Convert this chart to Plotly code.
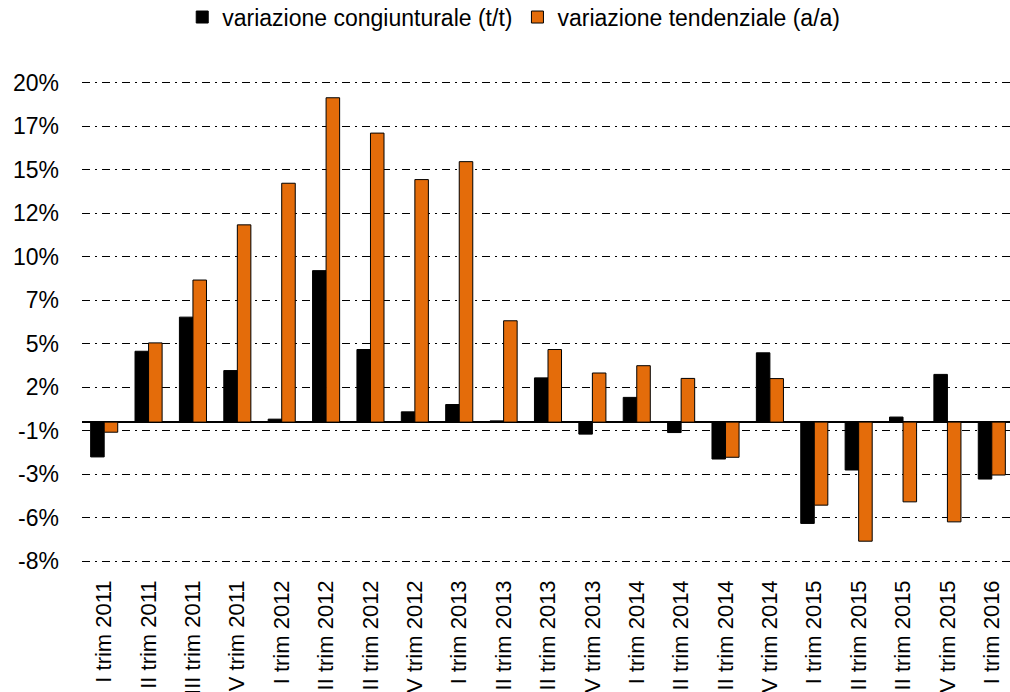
import numpy as np
import plotly.graph_objects as go

categories = [
    "I trim 2011", "II trim 2011", "III trim 2011", "IV trim 2011",
    "I trim 2012", "II trim 2012", "III trim 2012", "IV trim 2012",
    "I trim 2013", "II trim 2013", "III trim 2013", "IV trim 2013",
    "I trim 2014", "II trim 2014", "III trim 2014", "IV trim 2014",
    "I trim 2015", "II trim 2015", "III trim 2015", "IV trim 2015",
    "I trim 2016",
]

congiunturale = [-2.0, 4.07, 6.03, 2.96, 0.17, 8.70, 4.17, 0.59, 1.01, 0.07, 2.54,
                 -0.69, 1.42, -0.60, -2.12, 3.98, -5.82, -2.75, 0.29, 2.74, -3.27]
tendenziale = [-0.58, 4.55, 8.16, 11.33, 13.72, 18.63, 16.60, 13.93, 14.96, 5.82, 4.17,
               2.82, 3.24, 2.51, -2.02, 2.50, -4.77, -6.84, -4.58, -5.73, -3.04]

y_tick_labels = ["-8%", "-6%", "-3%", "-1%", "2%", "5%", "7%", "10%", "12%", "15%", "17%", "20%"]
Y_MIN, Y_STEP = -8.0, 2.5

series_names = ["variazione congiunturale (t/t)", "variazione tendenziale (a/a)"]

FONT = "Liberation Sans, Arial, sans-serif"
ORANGE = "#E46C0A"

y_tick_vals = list(Y_MIN + Y_STEP * np.arange(len(y_tick_labels)))
y_max = y_tick_vals[-1]
PAD = 0.15
y_range = [Y_MIN - PAD, y_max + PAD]
n = len(categories)
x_range = [-0.5, n - 0.5 - 0.09]

fig = go.Figure()
fig.add_trace(go.Bar(x=categories, y=congiunturale, name=series_names[0],
                     marker=dict(color="#000000", line=dict(color="#000000", width=1))))
fig.add_trace(go.Bar(x=categories, y=tendenziale, name=series_names[1],
                     marker=dict(color=ORANGE, line=dict(color="#000000", width=1))))

fig.update_layout(
    template="none",
    width=1010, height=692,
    margin=dict(l=82, r=0, t=80, b=128, autoexpand=False),
    paper_bgcolor="white", plot_bgcolor="white",
    font=dict(family=FONT, size=23, color="#000000"),
    barmode="group", bargap=0.39, bargroupgap=0.0,
    showlegend=True,
    legend=dict(orientation="h", x=0.108, xanchor="left", y=1.13, yanchor="middle",
                font=dict(family=FONT, size=23, color="#000000"),
                bgcolor="rgba(0,0,0,0)", borderwidth=0, traceorder="normal"),
    xaxis=dict(type="category", categoryorder="array", categoryarray=categories,
               range=x_range, showgrid=False, showline=False, zeroline=False,
               ticks="", tickangle=-90, ticklabelstandoff=11, automargin=False,
               tickfont=dict(family=FONT, size=22, color="#000000")),
    xaxis2=dict(type="linear", overlaying="x", anchor="free",
                position=(0 - y_range[0]) / (y_range[1] - y_range[0]),
                range=x_range, showgrid=False, showline=False, zeroline=False,
                ticks="outside", ticklen=5, tickwidth=1, tickcolor="#000000",
                tickmode="linear", tick0=-0.5, dtick=1, showticklabels=False,
                automargin=False),
    yaxis=dict(range=y_range, tickmode="array",
               tickvals=y_tick_vals, ticktext=y_tick_labels,
               showgrid=True, gridcolor="#000000", gridwidth=1,
               griddash="8px,5px,2px,5px",
               zeroline=True, zerolinecolor="#000000", zerolinewidth=1.5,
               showline=False, ticks="", ticklabelstandoff=22, automargin=False,
               tickfont=dict(family=FONT, size=23, color="#000000")),
)

fig.write_html("out.html",
               config={"displayModeBar": False},
               post_script="document.body.style.margin='0';document.body.style.overflow='hidden';")
